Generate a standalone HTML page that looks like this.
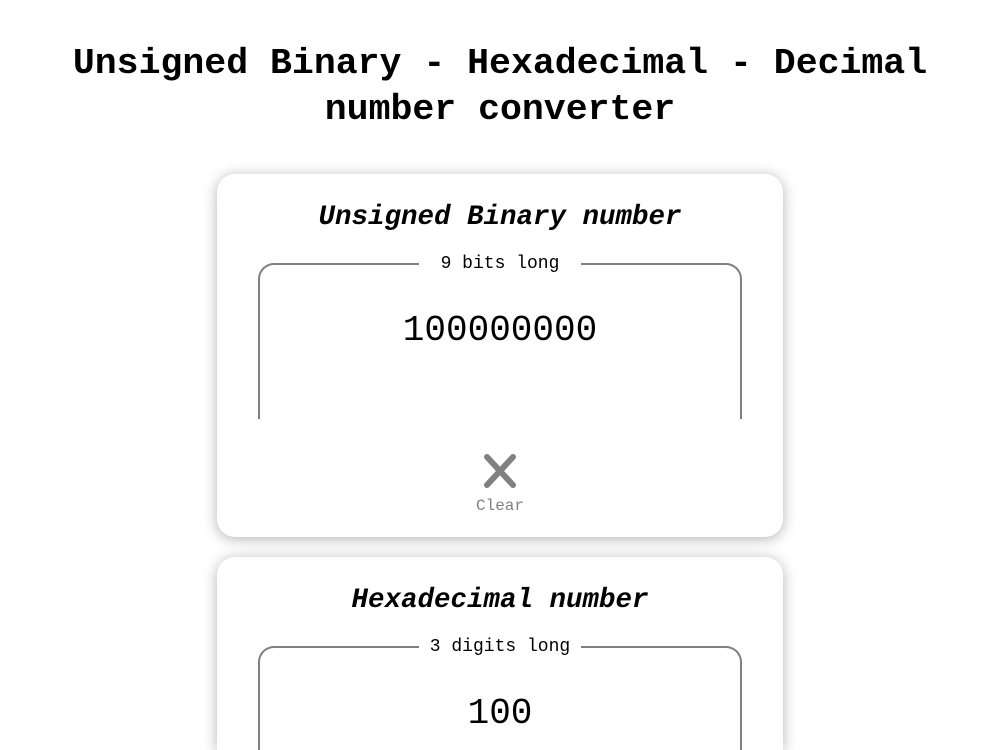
<!DOCTYPE html>
<html style="height:750px;overflow:hidden"><head><style>
body{margin:0;width:1000px;height:750px;background:#fff;overflow:hidden;font-family:"Liberation Mono","DejaVu Sans Mono",monospace;position:relative}
h1{position:absolute;left:0;top:41px;width:1000px;margin:0;text-align:center;font-size:36.5px;line-height:46px;font-weight:bold;color:#000}
.card{position:absolute;left:217px;width:566px;height:363px;background:#fff;border-radius:18px;box-shadow:0 2px 14px rgba(0,0,0,.3)}
.h{position:absolute;left:0;width:100%;text-align:center;font-size:27.5px;font-style:italic;font-weight:bold;line-height:32px}
.fs{position:absolute;left:41px;width:480px;height:154px;border:2.5px solid #808080;border-bottom:none;border-radius:16px 16px 0 0}
.lg{position:absolute;left:159px;top:-13px;width:162px;background:#fff;text-align:center;font-size:18px;line-height:24px}
.v{position:absolute;left:0;width:100%;text-align:center;font-size:36px;line-height:40px}
.x{position:absolute;left:267px;top:280px;width:32px;height:34px}
.cl{position:absolute;left:0;width:100%;top:323px;text-align:center;font-size:16px;color:#808080}
</style></head><body>
<h1>Unsigned Binary - Hexadecimal - Decimal<br>number converter</h1>
<div class="card" style="top:174px">
<div class="h" style="top:28px">Unsigned Binary number</div>
<div class="fs" style="top:89px"><div class="lg">9 bits long</div><div class="v" style="top:46px">100000000</div></div>
<svg class="x" viewBox="0 0 32 34"><path d="M3 3L29 31M29 3L3 31" stroke="#808080" stroke-width="6" stroke-linecap="round"/></svg>
<div class="cl">Clear</div>
</div>
<div class="card" style="top:557px;height:193px;border-radius:18px 18px 0 0;overflow:hidden">
<div class="h" style="top:28px">Hexadecimal number</div>
<div class="fs" style="top:89px;height:110px"><div class="lg">3 digits long</div><div class="v" style="top:46px">100</div></div>
</div>
</body></html>
